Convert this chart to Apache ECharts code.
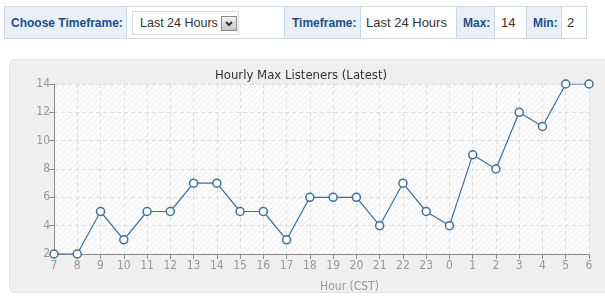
<!DOCTYPE html>
<html>
<head>
<meta charset="utf-8">
<script src="https://cdn.jsdelivr.net/npm/echarts@6/dist/echarts.min.js"></script>
<style>
  html, body { margin:0; padding:0; background:#fff; width:605px; height:298px; overflow:hidden; }
  #bar { position:absolute; left:4px; top:6px; border-collapse:collapse; font-family:"Liberation Sans", Arial, sans-serif; font-size:12px; }
  #bar td { border:1px solid #cbd8e6; height:31px; padding:0; }
  #bar td.lab { background:#e9eff7; color:#1e4e8c; font-weight:bold; }
  #bar td.val { background:#fff; color:#333; font-size:13px; }
  #sel { position:relative; margin-left:5px; width:107px; height:24px; border:1px solid #d7dde5; box-sizing:border-box; }
  #sel span { position:absolute; left:7px; top:4px; font-family:"Liberation Sans", Arial, sans-serif; font-size:12.5px; color:#333; white-space:nowrap; }
  #btn { position:absolute; left:88px; top:4px; width:16px; height:15px; box-sizing:border-box; border:1px solid #8a8a8a; background:linear-gradient(#f2f2f2,#c8c8c8); }
  #panel { position:absolute; left:9px; top:59px; width:610px; height:234px; background:#efefef; border:1px solid #e2e2e2; border-radius:6px; box-sizing:border-box; }
  #chart { position:absolute; left:0; top:0; width:605px; height:298px; }
</style>
</head>
<body>
<table id="bar"><tr>
  <td class="lab" style="width:122px;padding-left:6px;box-sizing:border-box">Choose Timeframe:</td>
  <td class="val" style="width:157px"><div id="sel"><span>Last 24 Hours</span><div id="btn"><svg width="14" height="13" style="position:absolute;left:0;top:0"><polyline points="4,5 7,8 10,5" fill="none" stroke="#333" stroke-width="2"/></svg></div></div></td>
  <td class="lab" style="width:76px;padding-left:7px;box-sizing:border-box">Timeframe:</td>
  <td class="val" style="width:96px;padding-left:5px;box-sizing:border-box">Last 24 Hours</td>
  <td class="lab" style="width:38px;padding-left:6px;box-sizing:border-box">Max:</td>
  <td class="val" style="width:32px;padding-left:6px;box-sizing:border-box">14</td>
  <td class="lab" style="width:35px;padding-left:6px;box-sizing:border-box">Min:</td>
  <td class="val" style="width:25px;padding-left:5px;box-sizing:border-box">2</td>
</tr></table>
<div id="panel"></div>
<div id="chart"></div>
<script>
const hours = ['7','8','9','10','11','12','13','14','15','16','17','18','19','20','21','22','23','0','1','2','3','4','5','6'];
const listeners = [2,2,5,3,5,5,7,7,5,5,3,6,6,6,4,7,5,4,9,8,12,11,14,14];
const yTicks = {min:2, max:14, interval:2};
const titleText = 'Hourly Max Listeners (Latest)';
const xName = 'Hour (CST)';

// diagonal hatch pattern for plot background
const pc = document.createElement('canvas');
pc.width = 6; pc.height = 6;
const g = pc.getContext('2d');
g.fillStyle = '#fbfbfb'; g.fillRect(0,0,6,6);
g.strokeStyle = '#eeeeee'; g.lineWidth = 1;
g.beginPath(); g.moveTo(0,6); g.lineTo(6,0); g.moveTo(-3,3); g.lineTo(3,-3); g.moveTo(3,9); g.lineTo(9,3); g.stroke();

const chart = echarts.init(document.getElementById('chart'), null, {renderer:'canvas'});
const font = '"DejaVu Sans Condensed", "Liberation Sans", sans-serif';
chart.setOption({
  animation:false,
  title:{ text:titleText, left:210, top:64, textStyle:{fontFamily:font, fontSize:13, fontWeight:'normal', color:'#333'} },
  grid:{ left:54, top:84, right:16, bottom:44, show:true, backgroundColor:{image:pc, repeat:'repeat'}, borderWidth:0 },
  xAxis:{
    type:'category', data:hours, boundaryGap:false,
    name:xName, nameLocation:'middle', nameGap:27,
    nameTextStyle:{fontFamily:font, fontSize:12, color:'#999', padding:[0,0,0,56]},
    axisLine:{lineStyle:{color:'#8c8c8c', width:1}},
    axisTick:{show:true, length:5, lineStyle:{color:'#8c8c8c'}},
    axisLabel:{fontFamily:font, fontSize:12, color:'#999', margin:6},
    splitLine:{show:true, lineStyle:{color:'#dedede', type:[4,3]}}
  },
  yAxis:{
    type:'value', min:yTicks.min, max:yTicks.max, interval:yTicks.interval,
    axisLine:{show:true, lineStyle:{color:'#8c8c8c', width:1}},
    axisTick:{show:true, length:5, lineStyle:{color:'#8c8c8c'}},
    axisLabel:{fontFamily:font, fontSize:12, color:'#999', margin:4},
    splitLine:{show:true, lineStyle:{color:'#dedede', type:[4,3]}}
  },
  series:[{
    type:'line', data:listeners,
    symbol:'circle', symbolSize:8,
    itemStyle:{color:'#ffffff', borderColor:'#3e6f9b', borderWidth:1.5},
    lineStyle:{color:'#3e6f9b', width:1.2}
  }]
});
</script>
</body>
</html>
